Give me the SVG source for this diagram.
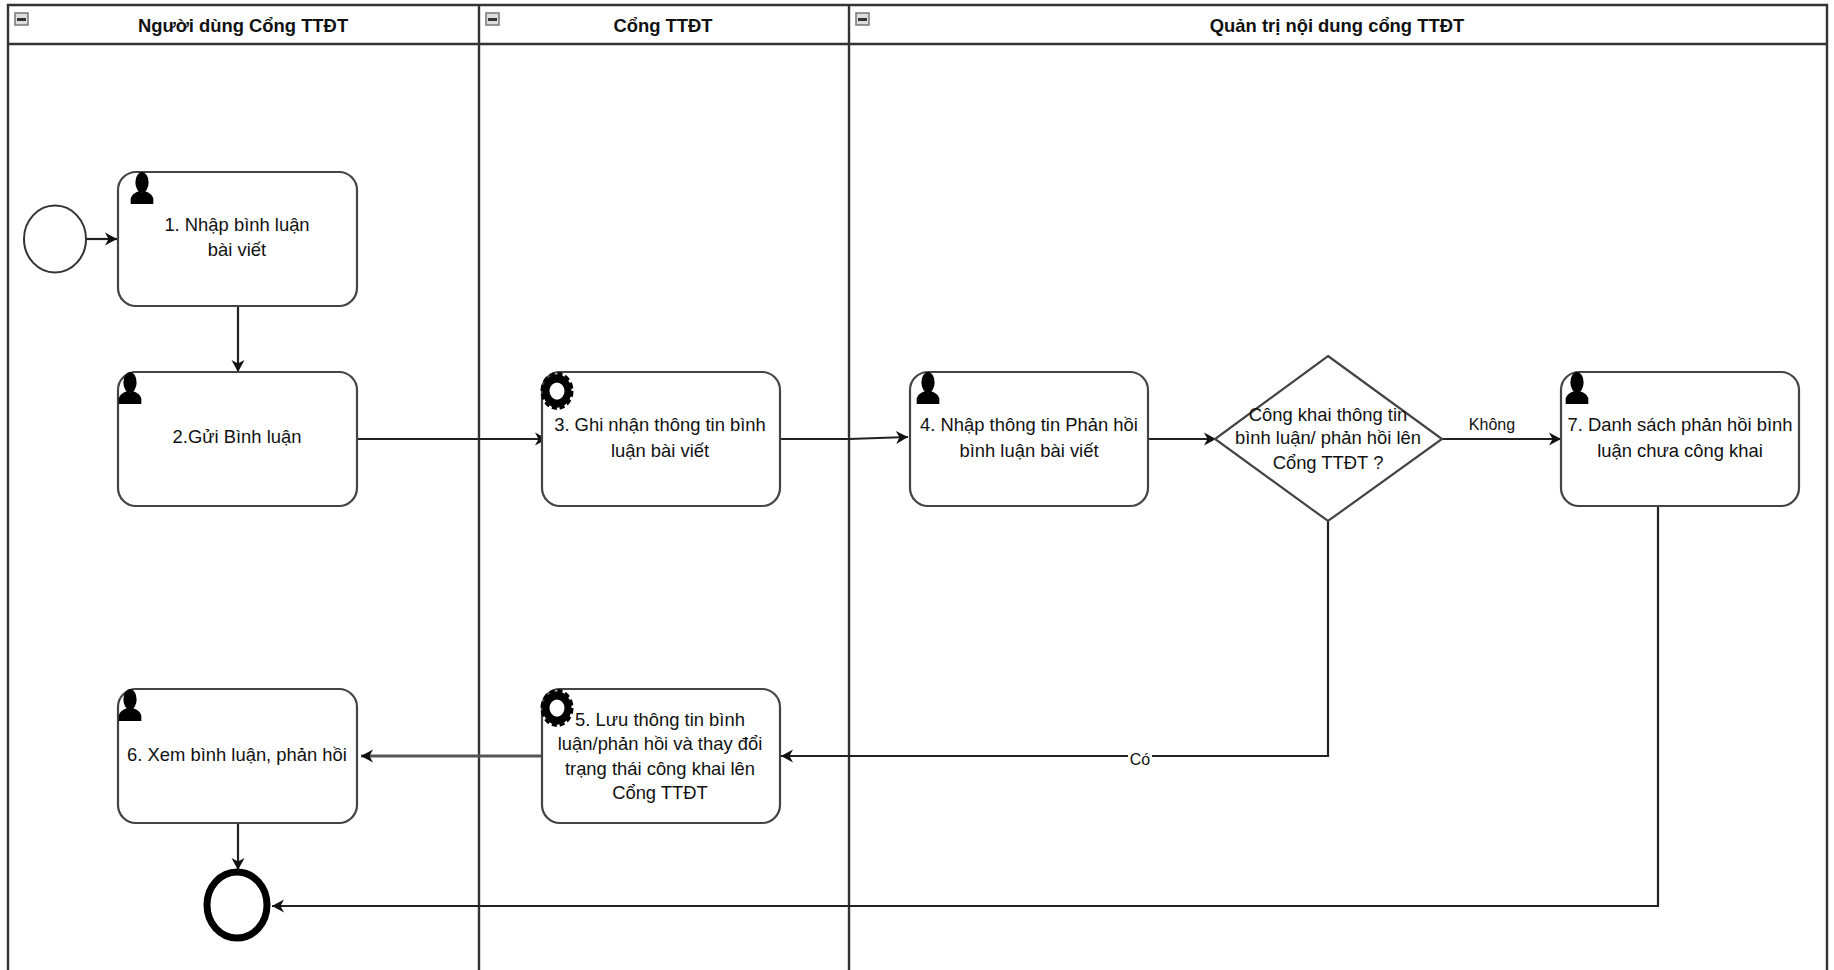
<svg xmlns="http://www.w3.org/2000/svg" width="1834" height="970" viewBox="0 0 1834 970">
<style>
text{font-family:"Liberation Sans",Arial,sans-serif;fill:#111;text-anchor:middle}
.t{font-size:18.400px}
.s{font-size:16px}
.h{font-size:18.400px;font-weight:bold}
.lane{fill:none;stroke:#333;stroke-width:2.4}
.task{fill:#fff;stroke:#444;stroke-width:2.200}
.c{fill:none;stroke:#222;stroke-width:2.200}
.btn{fill:#ddd;stroke:#777;stroke-width:1.5}
</style>
<defs>
<marker id="a" markerUnits="userSpaceOnUse" markerWidth="16" markerHeight="16" refX="13" refY="8" orient="auto"><path d="M1 1.500L13 8L1 14.500L4.500 8Z" fill="#111"/></marker>
<symbol id="user" viewBox="0 0 24 36" overflow="visible"><ellipse cx="12" cy="11" rx="7" ry="11" fill="#000"/><path d="M0 34V28Q1 23 9 20Q12 23 15 20Q23 23 24 28V34Z" fill="#000"/></symbol>
<g id="gear"><g transform="scale(1,1.150)"><circle r="11" fill="none" stroke="#000" stroke-width="7"/><circle r="15" fill="none" stroke="#000" stroke-width="3" stroke-dasharray="5 2.85"/></g></g>
</defs>
<rect width="1834" height="970" fill="#fff"/>
<g id="lanes">
<path class="lane" d="M8 970V5H1827V970M8 44H1827M479 5V970M849 5V970"/>
<rect class="btn" x="15" y="13" width="13" height="12"/><rect x="17" y="18" width="9" height="3" fill="#333"/>
<rect class="btn" x="486" y="13" width="13" height="12"/><rect x="488" y="18" width="9" height="3" fill="#333"/>
<rect class="btn" x="856" y="13" width="13" height="12"/><rect x="858" y="18" width="9" height="3" fill="#333"/>
<text class="h" x="243" y="32">Người dùng Cổng TTĐT</text>
<text class="h" x="663" y="32">Cổng TTĐT</text>
<text class="h" x="1337" y="32">Quản trị nội dung cổng TTĐT</text>
</g>
<g id="connectors">
<path class="c" marker-end="url(#a)" d="M86 239H117"/>
<path class="c" marker-end="url(#a)" d="M238 306V372"/>
<path class="c" marker-end="url(#a)" d="M357 439H547"/>
<path class="c" marker-end="url(#a)" d="M780 439L849 439L908 437"/>
<path class="c" marker-end="url(#a)" d="M1148 439H1216"/>
<path class="c" marker-end="url(#a)" d="M1442 439H1561"/>
<path class="c" marker-end="url(#a)" d="M1328 521V756H781"/>
<path class="c" style="stroke:#555;stroke-width:3" marker-end="url(#a)" d="M542 756H361"/>
<path class="c" marker-end="url(#a)" d="M238 823V870"/>
<path class="c" marker-end="url(#a)" d="M1658 506V906H272"/>
<rect x="1128" y="748" width="24" height="16" fill="#fff"/>
<text class="s" x="1140" y="765">Có</text>
<text class="s" x="1492" y="430">Không</text>
</g>
<g id="start"><ellipse cx="55" cy="239" rx="31" ry="33.500" fill="#fff" stroke="#333" stroke-width="2"/></g>
<g id="end"><ellipse cx="237" cy="905" rx="30" ry="33" fill="#fff" stroke="#000" stroke-width="7"/></g>
<g id="task1"><rect class="task" x="118" y="172" width="239" height="134" rx="18"/><use href="#user" x="130" y="172" width="24" height="34"/><text class="t"><tspan x="237" y="231">1. Nhập bình luận</tspan><tspan x="237" y="256">bài viết</tspan></text></g>
<g id="task2"><rect class="task" x="118" y="372" width="239" height="134" rx="18"/><use href="#user" x="118" y="372" width="24" height="34"/><text class="t" x="237" y="443">2.Gửi Bình luận</text></g>
<g id="task3"><rect class="task" x="542" y="372" width="238" height="134" rx="18"/><use href="#gear" x="557" y="391"/><text class="t"><tspan x="660" y="431">3. Ghi nhận thông tin bình</tspan><tspan x="660" y="457">luận bài viết</tspan></text></g>
<g id="task4"><rect class="task" x="910" y="372" width="238" height="134" rx="18"/><use href="#user" x="916" y="372" width="24" height="34"/><text class="t"><tspan x="1029" y="431">4. Nhập thông tin Phản hồi</tspan><tspan x="1029" y="457">bình luận bài viết</tspan></text></g>
<g id="gateway"><path d="M1328 356L1442 439L1328 521L1215 439Z" fill="#fff" stroke="#444" stroke-width="2.200"/><text class="t"><tspan x="1328" y="421">Công khai thông tin</tspan><tspan x="1328" y="444">bình luận/ phản hồi lên</tspan><tspan x="1328" y="469">Cổng TTĐT ?</tspan></text></g>
<g id="task7"><rect class="task" x="1561" y="372" width="238" height="134" rx="18"/><use href="#user" x="1565" y="372" width="24" height="34"/><text class="t"><tspan x="1680" y="431">7. Danh sách phản hồi bình</tspan><tspan x="1680" y="457">luận chưa công khai</tspan></text></g>
<g id="task5"><rect class="task" x="542" y="689" width="238" height="134" rx="18"/><use href="#gear" x="557" y="708"/><text class="t"><tspan x="660" y="726">5. Lưu thông tin bình</tspan><tspan x="660" y="750">luận/phản hồi và thay đổi</tspan><tspan x="660" y="775">trạng thái công khai lên</tspan><tspan x="660" y="799">Cổng TTĐT</tspan></text></g>
<g id="task6"><rect class="task" x="118" y="689" width="239" height="134" rx="18"/><use href="#user" x="118" y="689" width="24" height="34"/><text class="t" x="237" y="761">6. Xem bình luận, phản hồi</text></g>
</svg>
